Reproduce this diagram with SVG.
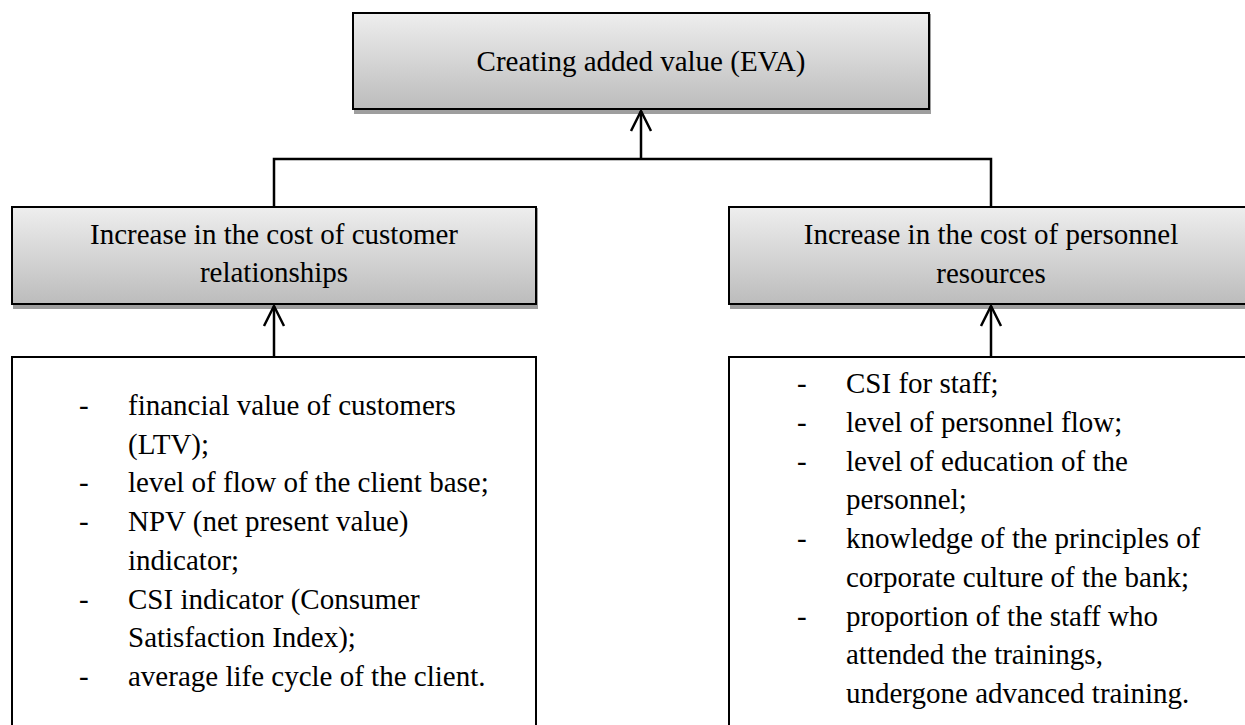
<svg xmlns="http://www.w3.org/2000/svg" width="1245" height="725" viewBox="0 0 1245 725">
<defs>
<linearGradient id="g" x1="0" y1="0" x2="0" y2="1">
<stop offset="0" stop-color="#eeeeee"/>
<stop offset="1" stop-color="#bcbcbc"/>
</linearGradient>
<marker id="ah" markerUnits="userSpaceOnUse" markerWidth="26" markerHeight="26" viewBox="-23 -13 26 26" refX="0" refY="0" orient="auto" overflow="visible">
<path d="M -20 -10 L 0 0 L -20 10" fill="none" stroke="#000" stroke-width="2.5"/>
</marker>
</defs>
<style>
.shadow{fill:#9e9e9e}
.gbox{fill:url(#g);stroke:#000;stroke-width:2}
.wbox{fill:#fff;stroke:#000;stroke-width:2}
.t{font-family:"Liberation Serif","Times New Roman",serif;font-size:29px;fill:#000}
.c{text-anchor:middle}
.conn{fill:none;stroke:#000;stroke-width:2.5}
</style>
<rect width="1245" height="725" fill="#fff"/>
<g id="top">
<rect class="shadow" x="354" y="14" width="577" height="100"/>
<rect class="gbox" x="353" y="13" width="576" height="96"/>
<text class="t c" x="641" y="71">Creating added value (EVA)</text>
</g>
<g id="mid-left">
<rect class="shadow" x="13" y="208" width="525" height="101"/>
<rect class="gbox" x="12" y="207" width="524" height="97"/>
<text class="t c" x="274" y="243.5">Increase in the cost of customer</text>
<text class="t c" x="274" y="282">relationships</text>
</g>
<g id="mid-right">
<rect class="shadow" x="730" y="208" width="525" height="101"/>
<rect class="gbox" x="729" y="207" width="524" height="97"/>
<text class="t c" x="991" y="244">Increase in the cost of personnel</text>
<text class="t c" x="991" y="282.5">resources</text>
</g>
<g id="bottom-left">
<rect class="wbox" x="12" y="357" width="524" height="400"/>
<text class="t" x="79" y="415">-</text>
<text class="t" x="128" y="415">financial value of customers</text>
<text class="t" x="128" y="453.7">(LTV);</text>
<text class="t" x="79" y="492.4">-</text>
<text class="t" x="128" y="492.4">level of flow of the client base;</text>
<text class="t" x="79" y="531.1">-</text>
<text class="t" x="128" y="531.1">NPV (net present value)</text>
<text class="t" x="128" y="569.8">indicator;</text>
<text class="t" x="79" y="608.5">-</text>
<text class="t" x="128" y="608.5">CSI indicator (Consumer</text>
<text class="t" x="128" y="647.2">Satisfaction Index);</text>
<text class="t" x="79" y="685.9">-</text>
<text class="t" x="128" y="685.9">average life cycle of the client.</text>
</g>
<g id="bottom-right">
<rect class="wbox" x="729" y="357" width="524" height="400"/>
<text class="t" x="797" y="393">-</text>
<text class="t" x="846" y="393">CSI for staff;</text>
<text class="t" x="797" y="431.75">-</text>
<text class="t" x="846" y="431.75">level of personnel flow;</text>
<text class="t" x="797" y="470.5">-</text>
<text class="t" x="846" y="470.5">level of education of the</text>
<text class="t" x="846" y="509.25">personnel;</text>
<text class="t" x="797" y="548">-</text>
<text class="t" x="846" y="548">knowledge of the principles of</text>
<text class="t" x="846" y="586.75">corporate culture of the bank;</text>
<text class="t" x="797" y="625.5">-</text>
<text class="t" x="846" y="625.5">proportion of the staff who</text>
<text class="t" x="846" y="664.25">attended the trainings,</text>
<text class="t" x="846" y="703">undergone advanced training.</text>
</g>
<g id="connectors">
<path class="conn" d="M 274 207 L 274 159 L 991 159 L 991 207"/>
<path class="conn" d="M 641 159 L 641 111" stroke-width="3" marker-end="url(#ah)"/>
<path class="conn" d="M 274 357 L 274 306" marker-end="url(#ah)"/>
<path class="conn" d="M 991 357 L 991 306" marker-end="url(#ah)"/>
</g>
</svg>
